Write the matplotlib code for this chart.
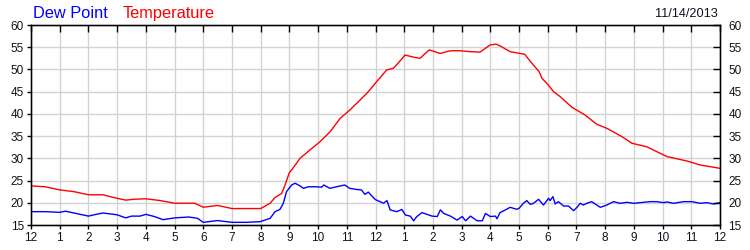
import matplotlib
matplotlib.use("Agg")
import matplotlib.pyplot as plt

# ── Data (hours since midnight, degrees F) ─────────────────────
HOUR_LABELS = ["12", "1", "2", "3", "4", "5", "6", "7", "8", "9", "10", "11",
               "12", "1", "2", "3", "4", "5", "6", "7", "8", "9", "10", "11", "12"]
Y_TICKS = [15, 20, 25, 30, 35, 40, 45, 50, 55, 60]
DATE_LABEL = "11/14/2013"

temp_h = [0, 0.5, 1, 1.5, 2, 2.5, 3, 3.3, 3.6, 4, 4.5, 5, 5.7, 6, 6.5, 7, 7.5,
          8, 8.33, 8.5, 8.73, 8.85, 9.0, 9.08, 9.25, 9.37, 9.72, 10.07, 10.42,
          10.77, 11.11, 11.46, 11.75, 12.04, 12.39, 12.62, 12.8, 13.03, 13.3,
          13.55, 13.87, 14.25, 14.6, 14.95, 15.3, 15.64, 15.99, 16.2, 16.34,
          16.69, 17.2, 17.4, 17.7, 17.8, 18.02, 18.2, 18.43, 18.84, 19.3,
          19.71, 20.06, 20.58, 20.93, 21.45, 22.15, 22.85, 23.31, 24]
temp_v = [23.8, 23.6, 22.9, 22.5, 21.8, 21.8, 21.0, 20.6, 20.8, 20.9, 20.5,
          19.9, 19.9, 19.0, 19.4, 18.7, 18.7, 18.7, 19.9, 21.2, 22.1, 24.0,
          26.8, 27.4, 28.9, 30.0, 31.9, 33.75, 36.0, 39.0, 40.9, 43.1, 45.0,
          47.25, 49.9, 50.25, 51.5, 53.25, 52.8, 52.5, 54.4, 53.6, 54.2, 54.2,
          54.0, 53.9, 55.5, 55.7, 55.3, 54.0, 53.4, 51.75, 49.5, 48.0, 46.5,
          45.0, 43.9, 41.5, 39.75, 37.65, 36.75, 34.9, 33.4, 32.6, 30.4, 29.4,
          28.5, 27.75]

dew_h = [0, 0.5, 1, 1.2, 1.5, 2, 2.2, 2.5, 3, 3.3, 3.5, 3.8, 4, 4.3, 4.6, 5,
         5.5, 5.8, 6, 6.5, 7, 7.5, 7.98, 8.33, 8.5, 8.67, 8.79, 8.9, 9.08, 9.2,
         9.37, 9.49, 9.66, 9.95, 10.12, 10.2, 10.41, 10.64, 10.93, 11.1, 11.34,
         11.51, 11.63, 11.75, 11.86, 12.0, 12.28, 12.4, 12.51, 12.74, 12.92,
         13.04, 13.21, 13.33, 13.44, 13.62, 13.79, 13.97, 14.15, 14.26, 14.38,
         14.61, 14.84, 15.02, 15.14, 15.31, 15.54, 15.72, 15.83, 16.0, 16.18,
         16.23, 16.34, 16.52, 16.69, 16.92, 17.0, 17.15, 17.27, 17.39, 17.5,
         17.68, 17.85, 18.03, 18.08, 18.18, 18.26, 18.37, 18.55, 18.72, 18.9,
         19.02, 19.13, 19.24, 19.36, 19.53, 19.65, 19.83, 20.06, 20.29, 20.52,
         20.76, 20.99, 21.22, 21.57, 21.8, 22.03, 22.15, 22.38, 22.73, 23.02,
         23.31, 23.54, 23.77, 24.0]
dew_v = [18.0, 18.0, 17.85, 18.1, 17.7, 17.0, 17.3, 17.7, 17.3, 16.6, 17.0,
         17.0, 17.4, 16.9, 16.2, 16.6, 16.8, 16.5, 15.6, 16.0, 15.6, 15.6,
         15.75, 16.5, 18.0, 18.5, 19.9, 22.5, 24.0, 24.4, 23.8, 23.25, 23.6,
         23.6, 23.5, 24.0, 23.25, 23.6, 24.0, 23.25, 23.0, 22.9, 21.9, 22.4,
         21.6, 20.7, 19.9, 20.5, 18.4, 18.0, 18.5, 17.25, 17.0, 15.95, 16.9,
         17.8, 17.4, 17.0, 16.9, 18.4, 17.6, 17.0, 16.1, 16.9, 15.95, 17.0,
         15.95, 15.95, 17.6, 16.9, 17.0, 16.4, 17.8, 18.38, 18.98, 18.53,
         18.75, 19.88, 20.48, 19.65, 19.88, 20.78, 19.5, 21.0, 20.48, 21.38,
         19.73, 20.25, 19.27, 19.27, 18.23, 18.98, 19.88, 19.5, 19.88, 20.25,
         19.73, 18.98, 19.5, 20.25, 19.88, 20.1, 19.88, 20.03, 20.25, 20.25,
         20.03, 20.18, 19.88, 20.25, 20.25, 19.88, 20.03, 19.73, 20.03]

assert len(temp_h) == len(temp_v) and len(dew_h) == len(dew_v)

# ── Style ──────────────────────────────────────────────────────
RED = "#ff0000"
BLUE = "#0000ff"
GRID = "#d3d3d3"
TXT = "#111122"

plt.rcParams["font.family"] = ["Liberation Sans", "DejaVu Sans"]

fig = plt.figure(figsize=(7.5, 2.5), dpi=100)
ax = fig.add_axes([31 / 750, 25 / 250, 689 / 750, 200 / 250])

ax.plot(temp_h, temp_v, color=RED, linewidth=1.0, zorder=3)
ax.plot(dew_h, dew_v, color=BLUE, linewidth=1.0, zorder=3)

hours = list(range(len(HOUR_LABELS)))
ax.set_xlim(0, 24)
ax.set_ylim(15, 60)
ax.set_xticks(hours)
ax.set_xticklabels(HOUR_LABELS, fontsize=8.5, color=TXT)
ax.set_yticks(Y_TICKS)
ax.set_yticklabels([str(v) for v in Y_TICKS], fontsize=8.5, color=TXT)
ax.grid(True, color=GRID, linewidth=1.0, zorder=0)
ax.tick_params(axis="x", direction="out", length=3, width=1, pad=2)
ax.tick_params(axis="y", direction="out", length=3, width=1, pad=2)
for spine in ax.spines.values():
    spine.set_color("black")
    spine.set_linewidth(1.0)

# right axis labels with inward ticks
axr = ax.twinx()
axr.set_ylim(15, 60)
axr.set_yticks(Y_TICKS)
axr.set_yticklabels([str(v) for v in Y_TICKS], fontsize=8.5, color=TXT)
axr.tick_params(axis="y", direction="in", length=5, width=1, pad=6)

# top inward ticks, no labels
axt = ax.twiny()
axt.set_xlim(0, 24)
axt.set_xticks(hours)
axt.tick_params(axis="x", direction="in", length=5, width=1, labeltop=False)

fig.text(33 / 750, 1 - 18 / 250, "Dew Point", color=BLUE, fontsize=11.8,
         ha="left", va="baseline")
fig.text(123 / 750, 1 - 18 / 250, "Temperature", color=RED, fontsize=11.8,
         ha="left", va="baseline")
fig.text(718 / 750, 1 - 17 / 250, DATE_LABEL, color=TXT, fontsize=9.2,
         ha="right", va="baseline")

fig.savefig("out.png", dpi=100, facecolor="white")
